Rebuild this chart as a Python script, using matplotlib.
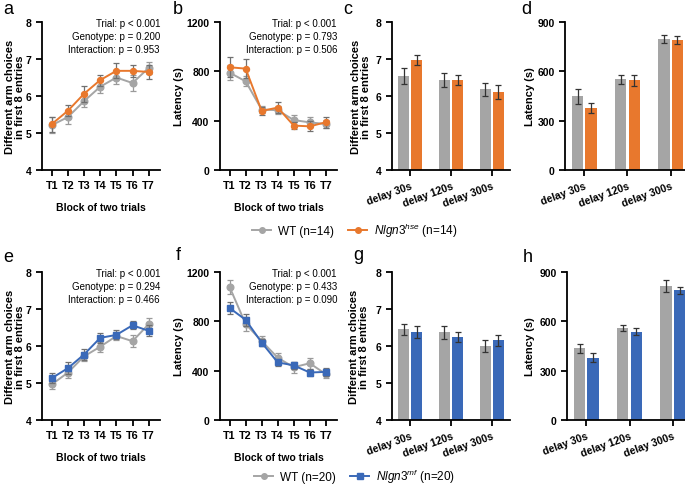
import numpy as np
import matplotlib
matplotlib.use('Agg')
import matplotlib.pyplot as plt
from matplotlib.lines import Line2D

plt.rcParams['font.family'] = ['Liberation Sans', 'DejaVu Sans']
plt.rcParams['mathtext.fontset'] = 'custom'
plt.rcParams['mathtext.rm'] = 'Liberation Sans'
plt.rcParams['mathtext.it'] = 'Liberation Sans:italic'

GRAY = '#A5A5A5'
ORANGE = '#E8782D'
BLUE = '#3A69B8'

trials = ['T1', 'T2', 'T3', 'T4', 'T5', 'T6', 'T7']
delays = ['delay 30s', 'delay 120s', 'delay 300s']

# a / b : Nlgn3 hse cohort, learning over trial blocks
a_wt = [5.21, 5.43, 5.86, 6.25, 6.50, 6.35, 6.76]
a_wt_err = [0.22, 0.18, 0.17, 0.18, 0.18, 0.22, 0.16]
a_hse = [5.24, 5.60, 6.06, 6.43, 6.68, 6.68, 6.65]
a_hse_err = [0.20, 0.15, 0.22, 0.15, 0.20, 0.17, 0.20]

b_wt = [789, 719, 490, 485, 405, 386, 373]
b_wt_err = [60, 40, 30, 30, 40, 40, 35]
b_hse = [833, 822, 479, 506, 360, 354, 387]
b_hse_err = [80, 80, 30, 45, 30, 40, 45]

# c / d : delay conditions
c_wt = [6.55, 6.43, 6.18]
c_wt_err = [0.22, 0.20, 0.17]
c_hse = [6.97, 6.43, 6.10]
c_hse_err = [0.14, 0.14, 0.19]

d_wt = [449, 551, 796]
d_wt_err = [45, 28, 25]
d_hse = [378, 545, 792]
d_hse_err = [30, 35, 25]

# e / f : Nlgn3 mf cohort
e_wt = [4.96, 5.28, 5.72, 5.98, 6.27, 6.13, 6.59]
e_wt_err = [0.13, 0.14, 0.12, 0.13, 0.12, 0.17, 0.16]
e_mf = [5.13, 5.40, 5.77, 6.22, 6.30, 6.56, 6.41]
e_mf_err = [0.14, 0.16, 0.14, 0.13, 0.12, 0.11, 0.15]

f_wt = [1078, 778, 640, 505, 428, 460, 372]
f_wt_err = [60, 60, 40, 40, 45, 45, 35]
f_mf = [908, 812, 628, 467, 443, 385, 390]
f_mf_err = [50, 50, 30, 30, 30, 30, 30]

# g / h
g_wt = [6.45, 6.37, 6.00]
g_wt_err = [0.14, 0.17, 0.17]
g_mf = [6.37, 6.25, 6.15]
g_mf_err = [0.16, 0.14, 0.14]

h_wt = [437, 558, 815]
h_wt_err = [28, 18, 38]
h_mf = [380, 536, 789]
h_mf_err = [25, 22, 20]

p_a = ['Trial: p < 0.001', 'Genotype: p = 0.200', 'Interaction: p = 0.953']
p_b = ['Trial: p < 0.001', 'Genotype: p = 0.793', 'Interaction: p = 0.506']
p_e = ['Trial: p < 0.001', 'Genotype: p = 0.294', 'Interaction: p = 0.466']
p_f = ['Trial: p < 0.001', 'Genotype: p = 0.433', 'Interaction: p = 0.090']

ARM_LABEL = 'Different arm choices\nin first 8 entries'

fig = plt.figure(figsize=(6.85, 4.85), dpi=100, facecolor='white')
W, H = 685.0, 485.0


def add_ax(left, right, top, bottom):
    ax = fig.add_axes([left / W, 1 - bottom / H, (right - left) / W, (bottom - top) / H])
    ax._px = (left, right)
    return ax


def style_axes(ax, yticks, ylabel, ylab_px):
    ax.spines['top'].set_visible(False)
    ax.spines['right'].set_visible(False)
    for s in ['left', 'bottom']:
        ax.spines[s].set_linewidth(1.3)
    ax.set_yticks(yticks)
    ax.set_ylim(yticks[0], yticks[-1])
    ax.tick_params(axis='both', direction='out', width=1.3, length=4)
    ax.tick_params(axis='y', labelsize=7.5)
    for lab in ax.get_yticklabels():
        lab.set_fontweight('bold')
    ax.set_ylabel(ylabel, fontsize=8, fontweight='bold', linespacing=1.0)
    # y label placed by its right edge, in figure pixels
    left, right = ax._px
    ax.yaxis.set_label_coords((ylab_px - left) / (right - left), 0.5)


def line_panel(ax, wt, wt_err, mut, mut_err, color, marker, yticks, ylabel, ylab_px, ptext):
    x = np.arange(len(trials))
    ax.errorbar(x, wt, yerr=wt_err, color=GRAY, ecolor='#9a9a9a', marker='o', ms=4.8,
                lw=1.4, capsize=2.5, elinewidth=0.9, capthick=0.9, zorder=3)
    ax.errorbar(x, mut, yerr=mut_err, color=color, ecolor='#707070', marker=marker, ms=4.3,
                lw=1.4, capsize=2.5, elinewidth=0.9, capthick=0.9, zorder=4)
    style_axes(ax, yticks, ylabel, ylab_px)
    ax.set_xlim(-0.6, 6.7)
    ax.set_xticks(x)
    ax.set_xticklabels(trials, fontsize=7.8, fontweight='bold')
    ax.set_xlabel('Block of two trials', fontsize=7.5, fontweight='bold', labelpad=8)
    ax.text(1.0, 1.025, '\n'.join(ptext), transform=ax.transAxes, ha='right', va='top',
            fontsize=7, linespacing=1.35)


def bar_panel(ax, wt, wt_err, mut, mut_err, color, yticks, ylabel, ylab_px):
    x = np.arange(len(delays))
    w = 0.27
    ax.bar(x - 0.16, wt, w, color=GRAY, zorder=2)
    ax.bar(x + 0.16, mut, w, color=color, zorder=2)
    ax.errorbar(x - 0.16, wt, yerr=wt_err, fmt='none', ecolor='#333333', capsize=2.5,
                elinewidth=0.9, capthick=0.9, zorder=3)
    ax.errorbar(x + 0.16, mut, yerr=mut_err, fmt='none', ecolor='#333333', capsize=2.5,
                elinewidth=0.9, capthick=0.9, zorder=3)
    style_axes(ax, yticks, ylabel, ylab_px)
    ax.set_xlim(-0.45, 2.45)
    ax.set_xticks(x)
    ax.set_xticklabels(delays, fontsize=7.6, fontweight='bold', rotation=20, ha='right',
                       rotation_mode='anchor')


# top row
ax_a = add_ax(42, 160, 23, 171)
ax_b = add_ax(220, 337, 23, 171)
ax_c = add_ax(392, 510, 23, 171)
ax_d = add_ax(565, 690, 23, 171)
# bottom row
ax_e = add_ax(42, 160, 273, 421)
ax_f = add_ax(220, 337, 273, 421)
ax_g = add_ax(392, 510, 273, 421)
ax_h = add_ax(567, 692, 273, 421)

line_panel(ax_a, a_wt, a_wt_err, a_hse, a_hse_err, ORANGE, 'o', [4, 5, 6, 7, 8], ARM_LABEL, 25, p_a)
line_panel(ax_b, b_wt, b_wt_err, b_hse, b_hse_err, ORANGE, 'o', [0, 400, 800, 1200], 'Latency (s)', 184, p_b)
bar_panel(ax_c, c_wt, c_wt_err, c_hse, c_hse_err, ORANGE, [4, 5, 6, 7, 8], ARM_LABEL, 371)
bar_panel(ax_d, d_wt, d_wt_err, d_hse, d_hse_err, ORANGE, [0, 300, 600, 900], 'Latency (s)', 535)

line_panel(ax_e, e_wt, e_wt_err, e_mf, e_mf_err, BLUE, 's', [4, 5, 6, 7, 8], ARM_LABEL, 25, p_e)
line_panel(ax_f, f_wt, f_wt_err, f_mf, f_mf_err, BLUE, 's', [0, 400, 800, 1200], 'Latency (s)', 184, p_f)
bar_panel(ax_g, g_wt, g_wt_err, g_mf, g_mf_err, BLUE, [4, 5, 6, 7, 8], ARM_LABEL, 369)
bar_panel(ax_h, h_wt, h_wt_err, h_mf, h_mf_err, BLUE, [0, 300, 600, 900], 'Latency (s)', 535)

# panel letters
for letter, (px, py) in zip('abcdefgh', [(8, 9), (178, 9), (348, 9), (526, 9),
                                         (8, 258), (178, 256), (358, 256), (528, 258)]):
    fig.text(px / W, 1 - py / H, letter, fontsize=13, ha='center', va='center')


# legends
def legend_row(color, marker, labels, yc):
    handles = [Line2D([0], [0], color=GRAY, marker='o', ms=4, lw=1.4),
               Line2D([0], [0], color=color, marker=marker, ms=4, lw=1.4)]
    fig.legend(handles, labels, loc='center', ncol=2, frameon=False,
               bbox_to_anchor=(355 / W, 1 - yc / H), fontsize=8.5, handlelength=1.6,
               columnspacing=1.2, handletextpad=0.6)


legend_row(ORANGE, 'o', ['WT (n=14)', r'$\mathit{Nlgn3}^{\mathit{hse}}$ (n=14)'], 231)
legend_row(BLUE, 's', ['WT (n=20)', r'$\mathit{Nlgn3}^{\mathit{mf}}$ (n=20)'], 477)

plt.savefig('out.png', dpi=100, facecolor='white')
plt.close()
